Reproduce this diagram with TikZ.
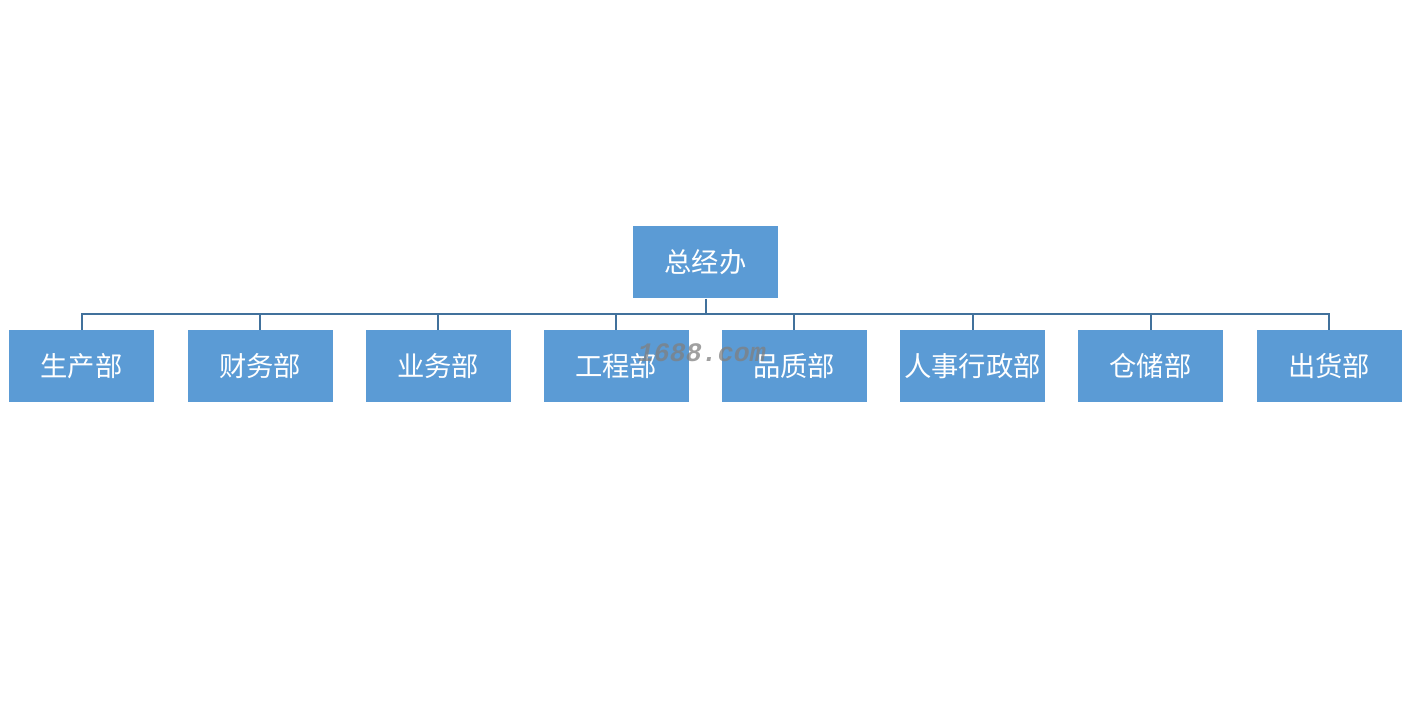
\documentclass[tikz,border=0pt]{standalone}
\usepackage{fontspec}
\newfontfamily\cjk{Noto Sans CJK SC}
\setmonofont{Liberation Mono}
\definecolor{boxblue}{RGB}{91,155,213}
\definecolor{linkblue}{RGB}{65,113,156}
\tikzset{every picture/.style={line width=0.75pt}}
\tikzset{
  dept/.style={fill=boxblue, draw=none, text=white, inner sep=0pt,
    minimum width=108.75pt, minimum height=54pt,
    font=\cjk\fontsize{20.5}{24}\selectfont},
  link/.style={draw=linkblue, line width=1.5pt}
}

\begin{document}
\begin{tikzpicture}[x=0.75pt,y=0.75pt,yscale=-1,xscale=1]
\path[use as bounding box] (0,0) rectangle (1411,706);

% Top node
\node [dept] (zjb) at (705.5,262) {总经办};
% Departments
\node [dept] (scb) at (81.5,366) {生产部};
\node [dept] (cwb) at (260,366) {财务部};
\node [dept] (ywb) at (438,366) {业务部};
\node [dept] (gcb) at (616,366) {工程部};
\node [dept] (pzb) at (794,366) {品质部};
\node [dept] (rsb) at (972.5,366) {人事行政部};
\node [dept] (ccb) at (1150.5,366) {仓储部};
\node [dept] (chb) at (1329,366) {出货部};

% Bus line
\coordinate (bus) at (705.5,314);
\draw [link] (zjb.south) -- (bus);
\draw [link] (bus) -| (scb.north);
\draw [link] (bus) -| (cwb.north);
\draw [link] (bus) -| (ywb.north);
\draw [link] (bus) -| (gcb.north);
\draw [link] (bus) -| (pzb.north);
\draw [link] (bus) -| (rsb.north);
\draw [link] (bus) -| (ccb.north);
\draw [link] (bus) -| (chb.north);

% Watermark
\node [text=gray, opacity=0.75, font=\ttfamily\bfseries\itshape\fontsize{20}{24}\selectfont, inner sep=0pt] (mark) at (702,353) {1688.com};

\end{tikzpicture}
\end{document}
